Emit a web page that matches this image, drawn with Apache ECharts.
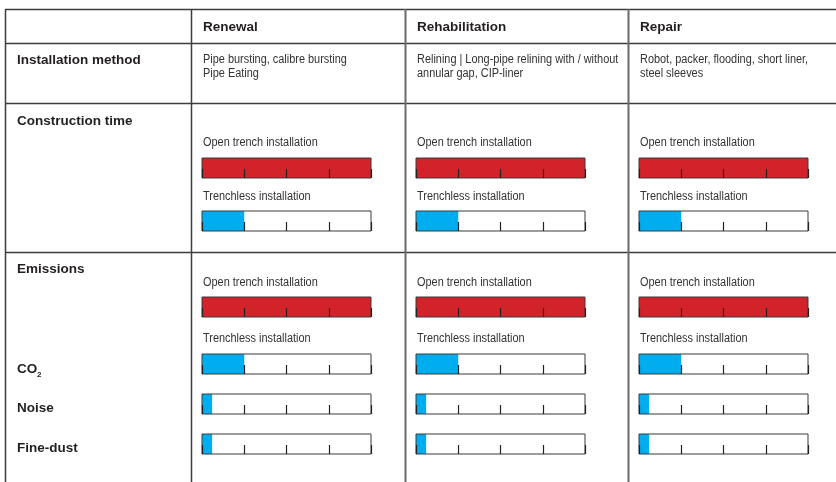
<!DOCTYPE html>
<html>
<head>
<meta charset="utf-8">
<script src="https://cdn.jsdelivr.net/npm/echarts@6/dist/echarts.min.js"></script>
<style>
  html, body { margin: 0; padding: 0; background: #fff; }
  #chart { width: 836px; height: 482px; }
</style>
</head>
<body>
<div id="chart"></div>
<script>
// ---- Content -------------------------------------------------------------
const columns = ['Renewal', 'Rehabilitation', 'Repair'];
const methods = [
  ['Pipe bursting, calibre bursting', 'Pipe Eating'],
  ['Relining | Long-pipe relining with / without', 'annular gap, CIP-liner'],
  ['Robot, packer, flooding, short liner,', 'steel sleeves']
];
const rowLabels = ['Installation method', 'Construction time', 'Emissions'];
const emissionLabels = ['CO', 'Noise', 'Fine-dust'];
const meterCaptions = ['Open trench installation', 'Trenchless installation'];

// Relative effort per column (0–100 scale, ticks every 25)
const openTrenchTime      = [100, 100, 100];
const trenchlessTime      = [25, 25, 25];
const openTrenchEmissions = [100, 100, 100];
const trenchlessCO2       = [25, 25, 25];
const trenchlessNoise     = [6, 6, 6];
const trenchlessFineDust  = [6, 6, 6];
const scaleMax = 100;
const scaleStep = 25;

// ---- Layout --------------------------------------------------------------
const RED = '#d2232a';
const BLUE = '#00aeef';
const INK = '#231f20';
const BODY_FONT = '12px "Liberation Sans", Arial, sans-serif';
const BODY_SQUEEZE = 0.91;   // slightly condensed body text
const BOLD_FONT = 'bold 13.5px "Liberation Sans", Arial, sans-serif';

const colLines = [191, 405, 628];
const meterLeft = [202, 416, 639];
const meterWidth = 169;
const meterHeight = 20;

// Each meter row: which series, its colour and vertical position
const meterRows = [
  { values: openTrenchTime,      color: RED,  top: 158 },
  { values: trenchlessTime,      color: BLUE, top: 211 },
  { values: openTrenchEmissions, color: RED,  top: 297 },
  { values: trenchlessCO2,       color: BLUE, top: 354 },
  { values: trenchlessNoise,     color: BLUE, top: 394 },
  { values: trenchlessFineDust,  color: BLUE, top: 434 }
];
const captionRows = [
  { text: meterCaptions[0], y: 143 },
  { text: meterCaptions[1], y: 197 },
  { text: meterCaptions[0], y: 283 },
  { text: meterCaptions[1], y: 339 }
];

const grids = [], xAxes = [], yAxes = [], series = [];
columns.forEach((col, c) => {
  meterRows.forEach((row) => {
    const i = grids.length;
    grids.push({
      left: meterLeft[c], top: row.top, width: meterWidth, height: meterHeight,
      show: true, backgroundColor: 'transparent',
      borderColor: '#3a3a3a', borderWidth: 1, z: 3
    });
    xAxes.push({
      gridIndex: i, type: 'value', min: 0, max: scaleMax, interval: scaleStep,
      axisLine: { show: false },
      axisTick: { show: true, inside: true, length: 9, lineStyle: { color: '#222', width: 1.2 } },
      axisLabel: { show: false }, splitLine: { show: false }, z: 4
    });
    yAxes.push({ gridIndex: i, type: 'category', data: [col], show: false });
    series.push({
      type: 'bar', xAxisIndex: i, yAxisIndex: i,
      data: [row.values[c]], barWidth: '100%',
      itemStyle: { color: row.color }, silent: true
    });
  });
});

// ---- Table frame and text -----------------------------------------------
const graphic = [];
const hLine = (y) => ({ type: 'line', shape: { x1: 5, y1: y, x2: 836, y2: y },
  style: { stroke: '#3d3d3d', lineWidth: 1.5 }, silent: true });
const vLine = (x, stroke, w) => ({ type: 'line', shape: { x1: x, y1: 9, x2: x, y2: 482 },
  style: { stroke: stroke, lineWidth: w }, silent: true });
[9.5, 43.5, 103.5, 252.5].forEach(y => graphic.push(hLine(y)));
graphic.push(vLine(5.5, '#3d3d3d', 1.5));
graphic.push(vLine(colLines[0] + 0.5, '#3d3d3d', 1.5));
graphic.push(vLine(colLines[1] + 0.5, '#6a6a6a', 2));
graphic.push(vLine(colLines[2] + 0.5, '#6a6a6a', 2));

const text = (x, y, str, font, fill, sx) => ({
  type: 'text', x: x, y: y, scaleX: sx || 1, silent: true,
  style: { text: str, font: font, fill: fill || INK, align: 'left', verticalAlign: 'middle' }
});
const body = (x, y, str) => text(x, y, str, BODY_FONT, '#333', BODY_SQUEEZE);

columns.forEach((col, c) => {
  const x = meterLeft[c] + 1;
  graphic.push(text(x, 27, col, BOLD_FONT));
  graphic.push(body(x, 60, methods[c][0]));
  graphic.push(body(x, 74, methods[c][1]));
  captionRows.forEach(r => graphic.push(body(x, r.y, r.text)));
});

graphic.push(text(17, 60, rowLabels[0], BOLD_FONT));
graphic.push(text(17, 121, rowLabels[1], BOLD_FONT));
graphic.push(text(17, 269, rowLabels[2], BOLD_FONT));
graphic.push(text(17, 369, emissionLabels[0], BOLD_FONT));
graphic.push(text(37, 375, '2', 'bold 8px "Liberation Sans", Arial, sans-serif'));
graphic.push(text(17, 408, emissionLabels[1], BOLD_FONT));
graphic.push(text(17, 448, emissionLabels[2], BOLD_FONT));

const chart = echarts.init(document.getElementById('chart'), null, { renderer: 'canvas' });
chart.setOption({
  animation: false,
  backgroundColor: '#fff',
  grid: grids,
  xAxis: xAxes,
  yAxis: yAxes,
  series: series,
  graphic: graphic
});
</script>
</body>
</html>
